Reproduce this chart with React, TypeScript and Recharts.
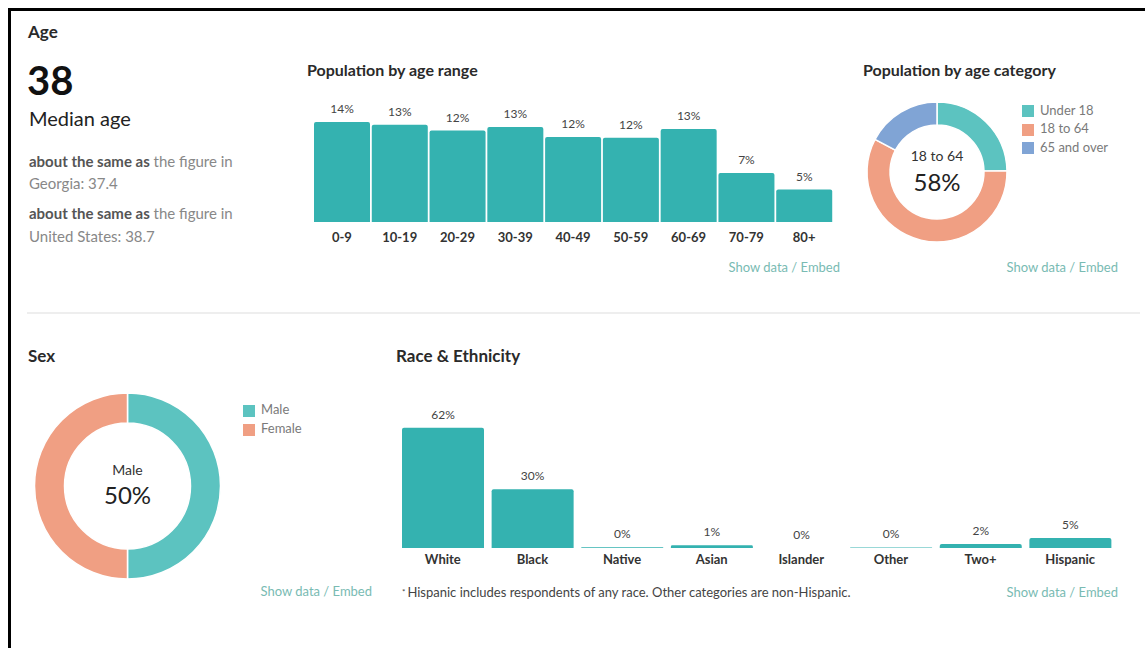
import React from "react";
import {
  BarChart,
  Bar,
  XAxis,
  YAxis,
  LabelList,
  PieChart,
  Pie,
  Cell,
} from "recharts";

const ageRanges = ["0-9", "10-19", "20-29", "30-39", "40-49", "50-59", "60-69", "70-79", "80+"];
const ageValues = [13.9, 13.5, 12.7, 13.2, 11.8, 11.7, 12.9, 6.8, 4.5];
const ageLabels = ["14%", "13%", "12%", "13%", "12%", "12%", "13%", "7%", "5%"];

const ageCategories = ["Under 18", "18 to 64", "65 and over"];
const ageCategoryValues = [24.7, 58.0, 17.3];

const sexCategories = ["Male", "Female"];
const sexValues = [50, 50];

const raceCategories = ["White", "Black", "Native", "Asian", "Islander", "Other", "Two+", "Hispanic"];
const raceValues = [62.0, 30.3, 0.4, 1.4, 0.05, 0.3, 2.1, 5.2];

const BAR = "#34b2b0";
const TEAL = "#5cc3c0";
const SALMON = "#f09f83";
const BLUE = "#80a4d5";
const LINK = "#79bbb3";
const FONT = "Lato, 'Open Sans', sans-serif";

const ageData = ageRanges.map((r, i) => ({ name: r, value: ageValues[i], label: ageLabels[i] }));
const ageCatData = ageCategories.map((c, i) => ({ name: c, value: ageCategoryValues[i] }));
const sexData = sexCategories.map((c, i) => ({ name: c, value: sexValues[i] }));
const raceData = raceCategories.map((c, i) => ({
  name: c,
  value: raceValues[i],
  label: Math.round(raceValues[i]) + "%",
}));

const ageCatColors = [TEAL, SALMON, BLUE];
const sexColors = [TEAL, SALMON];

// text placed by the vertical centre of its capitals
function T({ x, cy, fs, anchor = "start", style = {}, children }: any) {
  const tx = anchor === "middle" ? "translateX(-50%)" : anchor === "end" ? "translateX(-100%)" : "none";
  return (
    <div
      style={{
        position: "absolute",
        left: x,
        top: cy - fs * 0.63,
        fontSize: fs,
        lineHeight: fs * 1.2 + "px",
        whiteSpace: "nowrap",
        transform: tx,
        ...style,
      }}
    >
      {children}
    </div>
  );
}

function Legend({ x, y, names, colors, step }: any) {
  return (
    <>
      {names.map((n: string, i: number) => (
        <React.Fragment key={n}>
          <div
            style={{
              position: "absolute",
              left: x,
              top: y + i * step - 6,
              width: 12,
              height: 12,
              background: colors[i],
            }}
          />
          <T x={x + 18} cy={y + i * step} fs={13} style={{ color: "#7a7a7a" }}>
            {n}
          </T>
        </React.Fragment>
      ))}
    </>
  );
}

export default function App() {
  const tick = { fill: "#333", fontSize: 13, fontWeight: 700, fontFamily: FONT };
  const valLabel = { fill: "#444", fontSize: 12, fontFamily: FONT };
  return (
    <div
      style={{
        position: "absolute",
        left: 0,
        top: 0,
        width: 1145,
        height: 648,
        overflow: "hidden",
        background: "#fff",
        fontFamily: FONT,
      }}
    >
      <div
        style={{
          position: "absolute",
          left: 8,
          top: 8,
          width: 1300,
          height: 800,
          border: "3px solid #000",
          boxSizing: "border-box",
        }}
      />

      {/* Age, left column */}
      <T x={28} cy={33} fs={17} style={{ fontWeight: 700, color: "#2a2a2a" }}>Age</T>
      <T x={27} cy={81} fs={40} style={{ fontWeight: 700, color: "#111" }}>38</T>
      <T x={29} cy={119} fs={20} style={{ color: "#222" }}>Median age</T>
      <T x={29} cy={161} fs={15} style={{ color: "#888" }}>
        <b style={{ color: "#555" }}>about the same as</b> the figure in
      </T>
      <T x={29} cy={183} fs={15} style={{ color: "#888" }}>Georgia: 37.4</T>
      <T x={29} cy={213} fs={15} style={{ color: "#888" }}>
        <b style={{ color: "#555" }}>about the same as</b> the figure in
      </T>
      <T x={29} cy={236} fs={15} style={{ color: "#888" }}>United States: 38.7</T>

      {/* Population by age range */}
      <T x={307} cy={70} fs={16} style={{ fontWeight: 700, color: "#2a2a2a" }}>Population by age range</T>
      <div style={{ position: "absolute", left: 313, top: 94 }}>
        <BarChart
          width={520}
          height={152}
          data={ageData}
          margin={{ top: 20, right: 0, bottom: 0, left: 0 }}
          barCategoryGap={1}
        >
          <XAxis
            dataKey="name"
            axisLine={false}
            tickLine={false}
            interval={0}
            height={24}
            tickMargin={5}
            tick={tick}
          />
          <YAxis hide domain={[0, 15]} />
          <Bar dataKey="value" fill={BAR} radius={[2, 2, 0, 0]} isAnimationActive={false}>
            <LabelList dataKey="label" position="top" offset={9} style={valLabel} />
          </Bar>
        </BarChart>
      </div>
      <T x={840} cy={268} fs={13} anchor="end" style={{ color: LINK }}>Show data / Embed</T>

      {/* Population by age category */}
      <T x={863} cy={70} fs={16} style={{ fontWeight: 700, color: "#2a2a2a" }}>Population by age category</T>
      <div style={{ position: "absolute", left: 862, top: 97 }}>
        <PieChart width={150} height={150} margin={{ top: 0, right: 0, bottom: 0, left: 0 }}>
          <Pie
            data={ageCatData}
            dataKey="value"
            cx={75}
            cy={75}
            innerRadius={47}
            outerRadius={70}
            startAngle={90}
            endAngle={-270}
            stroke="#fff"
            strokeWidth={1.5}
            isAnimationActive={false}
          >
            {ageCatData.map((d, i) => (
              <Cell key={d.name} fill={ageCatColors[i]} />
            ))}
          </Pie>
        </PieChart>
      </div>
      <T x={937} cy={157} fs={14} anchor="middle" style={{ color: "#333" }}>18 to 64</T>
      <T x={937} cy={183} fs={24} anchor="middle" style={{ color: "#222" }}>58%</T>
      <Legend x={1022} y={111} names={ageCategories} colors={ageCatColors} step={18.5} />
      <T x={1118} cy={268} fs={13} anchor="end" style={{ color: LINK }}>Show data / Embed</T>

      <div style={{ position: "absolute", left: 27, top: 312, width: 1113, height: 1.5, background: "#eeeeee" }} />

      {/* Sex */}
      <T x={28} cy={357} fs={17} style={{ fontWeight: 700, color: "#2a2a2a" }}>Sex</T>
      <div style={{ position: "absolute", left: 30, top: 390 }}>
        <PieChart width={195} height={195} margin={{ top: 0, right: 0, bottom: 0, left: 0 }}>
          <Pie
            data={sexData}
            dataKey="value"
            cx={97.5}
            cy={96}
            innerRadius={63}
            outerRadius={93}
            startAngle={90}
            endAngle={-270}
            stroke="#fff"
            strokeWidth={1.5}
            isAnimationActive={false}
          >
            {sexData.map((d, i) => (
              <Cell key={d.name} fill={sexColors[i]} />
            ))}
          </Pie>
        </PieChart>
      </div>
      <T x={127.5} cy={470.5} fs={14} anchor="middle" style={{ color: "#333" }}>Male</T>
      <T x={127.5} cy={496.5} fs={24} anchor="middle" style={{ color: "#222" }}>50%</T>
      <Legend x={243} y={410.5} names={sexCategories} colors={sexColors} step={19} />
      <T x={372} cy={592} fs={13} anchor="end" style={{ color: LINK }}>Show data / Embed</T>

      {/* Race & Ethnicity */}
      <T x={396} cy={357} fs={17} style={{ fontWeight: 700, color: "#2a2a2a" }}>Race &amp; Ethnicity</T>
      <div style={{ position: "absolute", left: 398, top: 402 }}>
        <BarChart
          width={717}
          height={166}
          data={raceData}
          margin={{ top: 20, right: 0, bottom: 0, left: 0 }}
          barCategoryGap={4}
        >
          <XAxis
            dataKey="name"
            axisLine={false}
            tickLine={false}
            interval={0}
            height={20}
            tickMargin={1}
            tick={tick}
          />
          <YAxis hide domain={[0, 65]} />
          <Bar dataKey="value" fill={BAR} radius={[2, 2, 0, 0]} isAnimationActive={false}>
            <LabelList dataKey="label" position="top" offset={9} style={valLabel} />
          </Bar>
        </BarChart>
      </div>
      <T x={402} cy={593} fs={13} style={{ color: "#444" }}>
        <span style={{ fontSize: 8, verticalAlign: "top", marginRight: 2 }}>*</span>
        Hispanic includes respondents of any race. Other categories are non-Hispanic.
      </T>
      <T x={1118} cy={593} fs={13} anchor="end" style={{ color: LINK }}>Show data / Embed</T>
    </div>
  );
}
